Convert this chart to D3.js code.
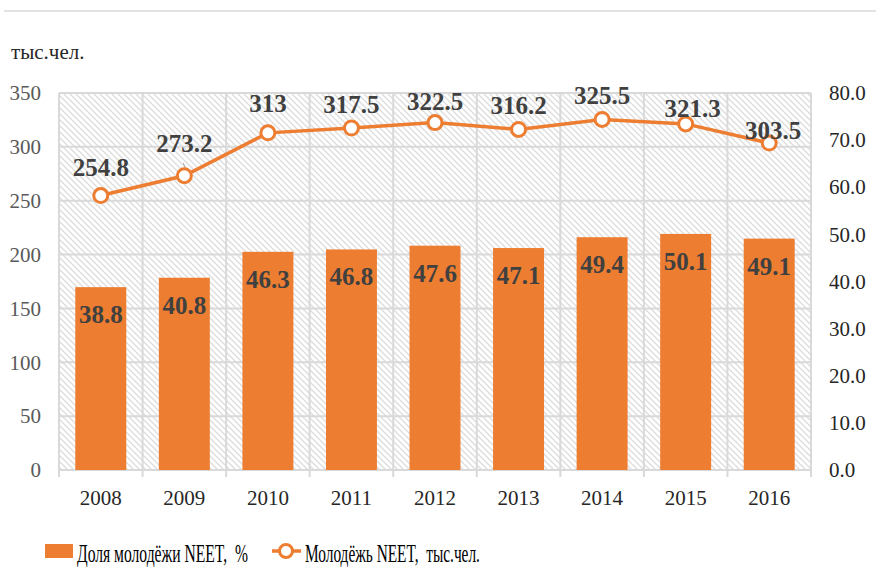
<!DOCTYPE html>
<html>
<head>
<meta charset="utf-8">
<script src="https://cdn.jsdelivr.net/npm/d3@7"></script>
<style>
  body { margin: 0; background: #fff; }
  text { font-family: "Liberation Serif", serif; white-space: pre; }
</style>
</head>
<body>
<svg class="vis" width="876" height="587" font-family="Liberation Serif"></svg>
<script>
// data
const years = ["2008", "2009", "2010", "2011", "2012", "2013", "2014", "2015", "2016"];
const neetShare = [38.8, 40.8, 46.3, 46.8, 47.6, 47.1, 49.4, 50.1, 49.1];          // %, right axis
const neetCount = [254.8, 273.2, 313, 317.5, 322.5, 316.2, 325.5, 321.3, 303.5];  // тыс.чел., left axis
const leftTicks = [0, 50, 100, 150, 200, 250, 300, 350];
const rightTicks = [0, 10, 20, 30, 40, 50, 60, 70, 80];

const labelShare = "Доля молодёжи NEET,  %";
const labelCount = "Молодёжь NEET,  тыс.чел.";
const unitLabel = "тыс.чел.";

// layout
const orange = "#ED7D31";
const grid = "#d9d9d9";
const serif = "Liberation Serif";
const plot = { left: 59, right: 811, top: 93, bottom: 470 };

const svg = d3.select("svg.vis");

// hatch pattern for the plot background
const defs = svg.append("defs");
const pat = defs.append("pattern")
    .attr("id", "hatch")
    .attr("patternUnits", "userSpaceOnUse")
    .attr("width", 6).attr("height", 6);
pat.append("rect").attr("width", 6).attr("height", 6).attr("fill", "#fff");
pat.append("path")
    .attr("d", "M-1,-1 L7,7 M-1,5 L1,7 M5,-1 L7,1")
    .attr("stroke", "#dcdcdc")
    .attr("stroke-width", 1.3);

const x = d3.scaleBand()
    .domain(years)
    .range([plot.left, plot.right])
    .paddingInner(0.39)
    .paddingOuter(0.195);

const yLeft = d3.scaleLinear().domain([0, 350]).range([plot.bottom, plot.top]);
const yRight = d3.scaleLinear().domain([0, 80]).range([plot.bottom, plot.top]);

// top rule
svg.append("line")
    .attr("x1", 4).attr("x2", 876).attr("y1", 11).attr("y2", 11)
    .attr("stroke", grid).attr("stroke-width", 1.5);

svg.append("text")
    .attr("x", 11).attr("y", 59)
    .attr("font-family", serif)
    .attr("font-size", 21)
    .attr("fill", "#262626")
    .text(unitLabel);

// plot background
svg.append("rect")
    .attr("x", plot.left).attr("y", plot.top)
    .attr("width", plot.right - plot.left)
    .attr("height", plot.bottom - plot.top)
    .attr("fill", "url(#hatch)");

// gridlines
const gridG = svg.append("g").attr("stroke", grid).attr("stroke-width", 2);
gridG.selectAll("line.h")
    .data(leftTicks)
    .join("line")
    .attr("class", "h")
    .attr("x1", plot.left).attr("x2", plot.right)
    .attr("y1", d => yLeft(d)).attr("y2", d => yLeft(d));

const bounds = d3.range(years.length + 1).map(i => plot.left + i * x.step());
gridG.selectAll("line.v")
    .data(bounds)
    .join("line")
    .attr("class", "v")
    .attr("x1", d => d).attr("x2", d => d)
    .attr("y1", plot.top).attr("y2", plot.bottom + 7);

// left axis
const axL = svg.append("g")
    .attr("transform", `translate(${plot.left},0)`)
    .call(d3.axisLeft(yLeft).tickValues(leftTicks).tickSize(0).tickPadding(18));
axL.attr("font-family", serif);
axL.select(".domain").remove();
axL.selectAll("text")
    .attr("font-size", 21)
    .attr("fill", "#595959");

// right axis
const axR = svg.append("g")
    .attr("transform", `translate(${plot.right},0)`)
    .call(d3.axisRight(yRight).tickValues(rightTicks).tickSize(0).tickPadding(18)
        .tickFormat(d3.format(".1f")));
axR.attr("font-family", serif);
axR.select(".domain").remove();
axR.selectAll("text")
    .attr("font-size", 21)
    .attr("fill", "#262626");

// bottom axis
const axB = svg.append("g")
    .attr("transform", `translate(0,${plot.bottom})`)
    .call(d3.axisBottom(x).tickSize(0).tickPadding(20));
axB.attr("font-family", serif);
axB.select(".domain").remove();
axB.selectAll("text")
    .attr("font-size", 21)
    .attr("fill", "#262626");

// bars
const rows = years.map((y, i) => ({ year: y, share: neetShare[i], count: neetCount[i] }));

svg.append("g")
    .selectAll("rect")
    .data(rows)
    .join("rect")
    .attr("x", d => x(d.year))
    .attr("width", x.bandwidth())
    .attr("y", d => yRight(d.share))
    .attr("height", d => plot.bottom - yRight(d.share))
    .attr("fill", orange);

svg.append("g")
    .attr("font-family", serif)
    .selectAll("text")
    .data(rows)
    .join("text")
    .attr("x", d => x(d.year) + x.bandwidth() / 2)
    .attr("y", d => yRight(d.share) + 36)
    .attr("text-anchor", "middle")
    .attr("font-size", 25)
    .attr("font-weight", "bold")
    .attr("fill", "#404040")
    .text(d => d3.format(".1f")(d.share));

// line
const cx = d => x(d.year) + x.bandwidth() / 2;
svg.append("path")
    .datum(rows)
    .attr("fill", "none")
    .attr("stroke", orange)
    .attr("stroke-width", 3.5)
    .attr("d", d3.line().x(cx).y(d => yLeft(d.count)));

// small leader line for 2009 label
svg.append("line")
    .attr("x1", cx(rows[1]) + 3).attr("y1", 173)
    .attr("x2", cx(rows[1]) - 1).attr("y2", 163)
    .attr("stroke", "#a6a6a6").attr("stroke-width", 1);

svg.append("g")
    .selectAll("circle")
    .data(rows)
    .join("circle")
    .attr("cx", cx)
    .attr("cy", d => yLeft(d.count))
    .attr("r", 7)
    .attr("fill", "#fff")
    .attr("stroke", orange)
    .attr("stroke-width", 3);

// label nudges (dx, dy from the point) to follow the original placement
const nudge = [[0, -20], [0, -24], [0, -21], [0, -15], [0, -13], [0, -15], [0, -15], [7, -7], [4, -4]];
svg.append("g")
    .attr("font-family", serif)
    .selectAll("text")
    .data(rows)
    .join("text")
    .attr("x", (d, i) => cx(d) + nudge[i][0])
    .attr("y", (d, i) => yLeft(d.count) + nudge[i][1])
    .attr("text-anchor", "middle")
    .attr("font-size", 25)
    .attr("font-weight", "bold")
    .attr("fill", "#404040")
    .text(d => d.count);

// legend (text squeezed horizontally like the original)
const lg = svg.append("g").attr("font-family", serif);

function squeezed(txt, x0, y0, w) {
    const t = lg.append("text")
        .attr("font-size", 25)
        .attr("fill", "#000")
        .text(txt);
    const sx = w / t.node().getComputedTextLength();
    t.attr("transform", `translate(${x0},${y0}) scale(${sx},1)`);
}

lg.append("rect")
    .attr("x", 45).attr("y", 544).attr("width", 28).attr("height", 14)
    .attr("fill", orange);
squeezed(labelShare, 77, 562, 171);

lg.append("line")
    .attr("x1", 272).attr("x2", 301).attr("y1", 551).attr("y2", 551)
    .attr("stroke", orange).attr("stroke-width", 3.5);
lg.append("circle")
    .attr("cx", 286).attr("cy", 551).attr("r", 6.5)
    .attr("fill", "#fff").attr("stroke", orange).attr("stroke-width", 3);
squeezed(labelCount, 305, 562, 175);
</script>
</body>
</html>
